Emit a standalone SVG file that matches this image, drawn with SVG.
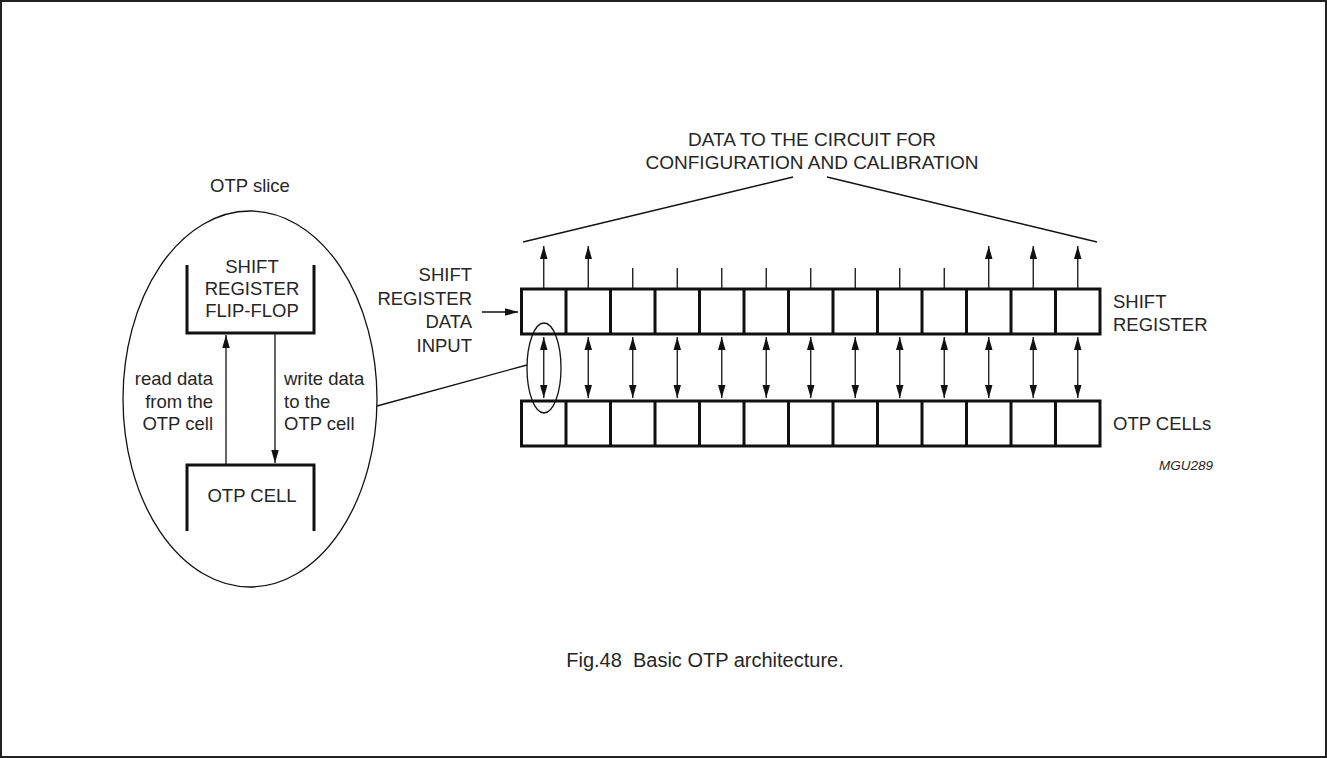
<svg xmlns="http://www.w3.org/2000/svg" width="1327" height="758" viewBox="0 0 1327 758">
<style>
text{font-family:"Liberation Sans",Arial,sans-serif;font-size:18.5px;fill:#262626}
.thin{stroke:#111;stroke-width:1.3;fill:none}
.thick{stroke:#111;stroke-width:3;fill:none}
.ar{stroke:#111;stroke-width:1.3;fill:none;marker-end:url(#ah)}
.dar{stroke:#111;stroke-width:1.3;fill:none;marker-end:url(#ah);marker-start:url(#ahs)}
</style>
<defs>
<marker id="ah" markerUnits="userSpaceOnUse" markerWidth="14" markerHeight="9" refX="13" refY="3.75" orient="auto"><path d="M0,0 L13,3.75 L0,7.5 z" fill="#111"/></marker>
<marker id="ahs" markerUnits="userSpaceOnUse" markerWidth="14" markerHeight="9" refX="0" refY="3.75" orient="auto"><path d="M13,0 L0,3.75 L13,7.5 z" fill="#111"/></marker>
</defs>
<rect x="1" y="1" width="1325" height="756" fill="#fff" stroke="#222" stroke-width="2"/>

<g id="otp-slice">
<text x="250" y="192" text-anchor="middle">OTP slice</text>
<ellipse cx="250" cy="399" rx="127" ry="188" class="thin"/>
</g>
<g id="flipflop">
<path d="M187,265 V333 H314 V265" class="thick"/>
<text x="252" y="273" text-anchor="middle">SHIFT</text>
<text x="252" y="295" text-anchor="middle">REGISTER</text>
<text x="252" y="317" text-anchor="middle">FLIP-FLOP</text>
</g>
<g id="otpcell">
<path d="M187,531 V465 H314 V531" class="thick"/>
<text x="252" y="502" text-anchor="middle">OTP CELL</text>
</g>
<g id="slice-labels">
<text x="213" y="385" text-anchor="end">read data</text>
<text x="213" y="408" text-anchor="end">from the</text>
<text x="213" y="430" text-anchor="end">OTP cell</text>
<text x="284" y="385">write data</text>
<text x="284" y="408">to the</text>
<text x="284" y="430">OTP cell</text>
</g>

<g id="title">
<text x="812" y="146" text-anchor="middle" style="font-size:19px">DATA TO THE CIRCUIT FOR</text>
<text x="812" y="169" text-anchor="middle" style="font-size:19px">CONFIGURATION AND CALIBRATION</text>
</g>

<g id="input-label">
<text x="472" y="281" text-anchor="end">SHIFT</text>
<text x="472" y="304.5" text-anchor="end">REGISTER</text>
<text x="472" y="328" text-anchor="end">DATA</text>
<text x="472" y="351.5" text-anchor="end">INPUT</text>
</g>

<g id="shift-register">
<rect x="521.5" y="289" width="578.5" height="45" class="thick"/>
<path class="thick" d="M566,289V334 M610.5,289V334 M655,289V334 M699.5,289V334 M744,289V334 M788.5,289V334 M833,289V334 M877.5,289V334 M922,289V334 M966.5,289V334 M1011,289V334 M1055.5,289V334"/>
<text x="1113" y="308">SHIFT</text>
<text x="1113" y="331">REGISTER</text>
</g>

<g id="otp-cells">
<rect x="521.5" y="401" width="578.5" height="45" class="thick"/>
<path class="thick" d="M566,401V446 M610.5,401V446 M655,401V446 M699.5,401V446 M744,401V446 M788.5,401V446 M833,401V446 M877.5,401V446 M922,401V446 M966.5,401V446 M1011,401V446 M1055.5,401V446"/>
<text x="1113" y="430">OTP CELLs</text>
</g>

<g id="connectors">
<line x1="523" y1="242" x2="793" y2="177" class="thin"/>
<line x1="827" y1="177" x2="1097" y2="242" class="thin"/>
<line x1="543.75" y1="289" x2="543.75" y2="246" class="ar"/>
<line x1="588.25" y1="289" x2="588.25" y2="246" class="ar"/>
<path class="thin" d="M632.75,268V289 M677.25,268V289 M721.75,268V289 M766.25,268V289 M810.75,268V289 M855.25,268V289 M899.75,268V289 M944.25,268V289"/>
<line x1="988.75" y1="289" x2="988.75" y2="246" class="ar"/>
<line x1="1033.25" y1="289" x2="1033.25" y2="246" class="ar"/>
<line x1="1077.75" y1="289" x2="1077.75" y2="246" class="ar"/>
<line x1="482" y1="312" x2="518" y2="312" class="ar"/>
<line x1="543.75" y1="337" x2="543.75" y2="398" class="dar"/>
<line x1="588.25" y1="337" x2="588.25" y2="398" class="dar"/>
<line x1="632.75" y1="337" x2="632.75" y2="398" class="dar"/>
<line x1="677.25" y1="337" x2="677.25" y2="398" class="dar"/>
<line x1="721.75" y1="337" x2="721.75" y2="398" class="dar"/>
<line x1="766.25" y1="337" x2="766.25" y2="398" class="dar"/>
<line x1="810.75" y1="337" x2="810.75" y2="398" class="dar"/>
<line x1="855.25" y1="337" x2="855.25" y2="398" class="dar"/>
<line x1="899.75" y1="337" x2="899.75" y2="398" class="dar"/>
<line x1="944.25" y1="337" x2="944.25" y2="398" class="dar"/>
<line x1="988.75" y1="337" x2="988.75" y2="398" class="dar"/>
<line x1="1033.25" y1="337" x2="1033.25" y2="398" class="dar"/>
<line x1="1077.75" y1="337" x2="1077.75" y2="398" class="dar"/>
<ellipse cx="544" cy="368" rx="17" ry="45" class="thin"/>
<line x1="377" y1="406" x2="527" y2="365" class="thin"/>
<line x1="226" y1="465" x2="226" y2="335" class="ar"/>
<line x1="275" y1="333" x2="275" y2="463" class="ar"/>
</g>

<text x="1213" y="470" text-anchor="end" style="font-size:13.5px;font-style:italic">MGU289</text>
<text x="705" y="667" text-anchor="middle" style="font-size:20px">Fig.48&#160; Basic OTP architecture.</text>
</svg>
